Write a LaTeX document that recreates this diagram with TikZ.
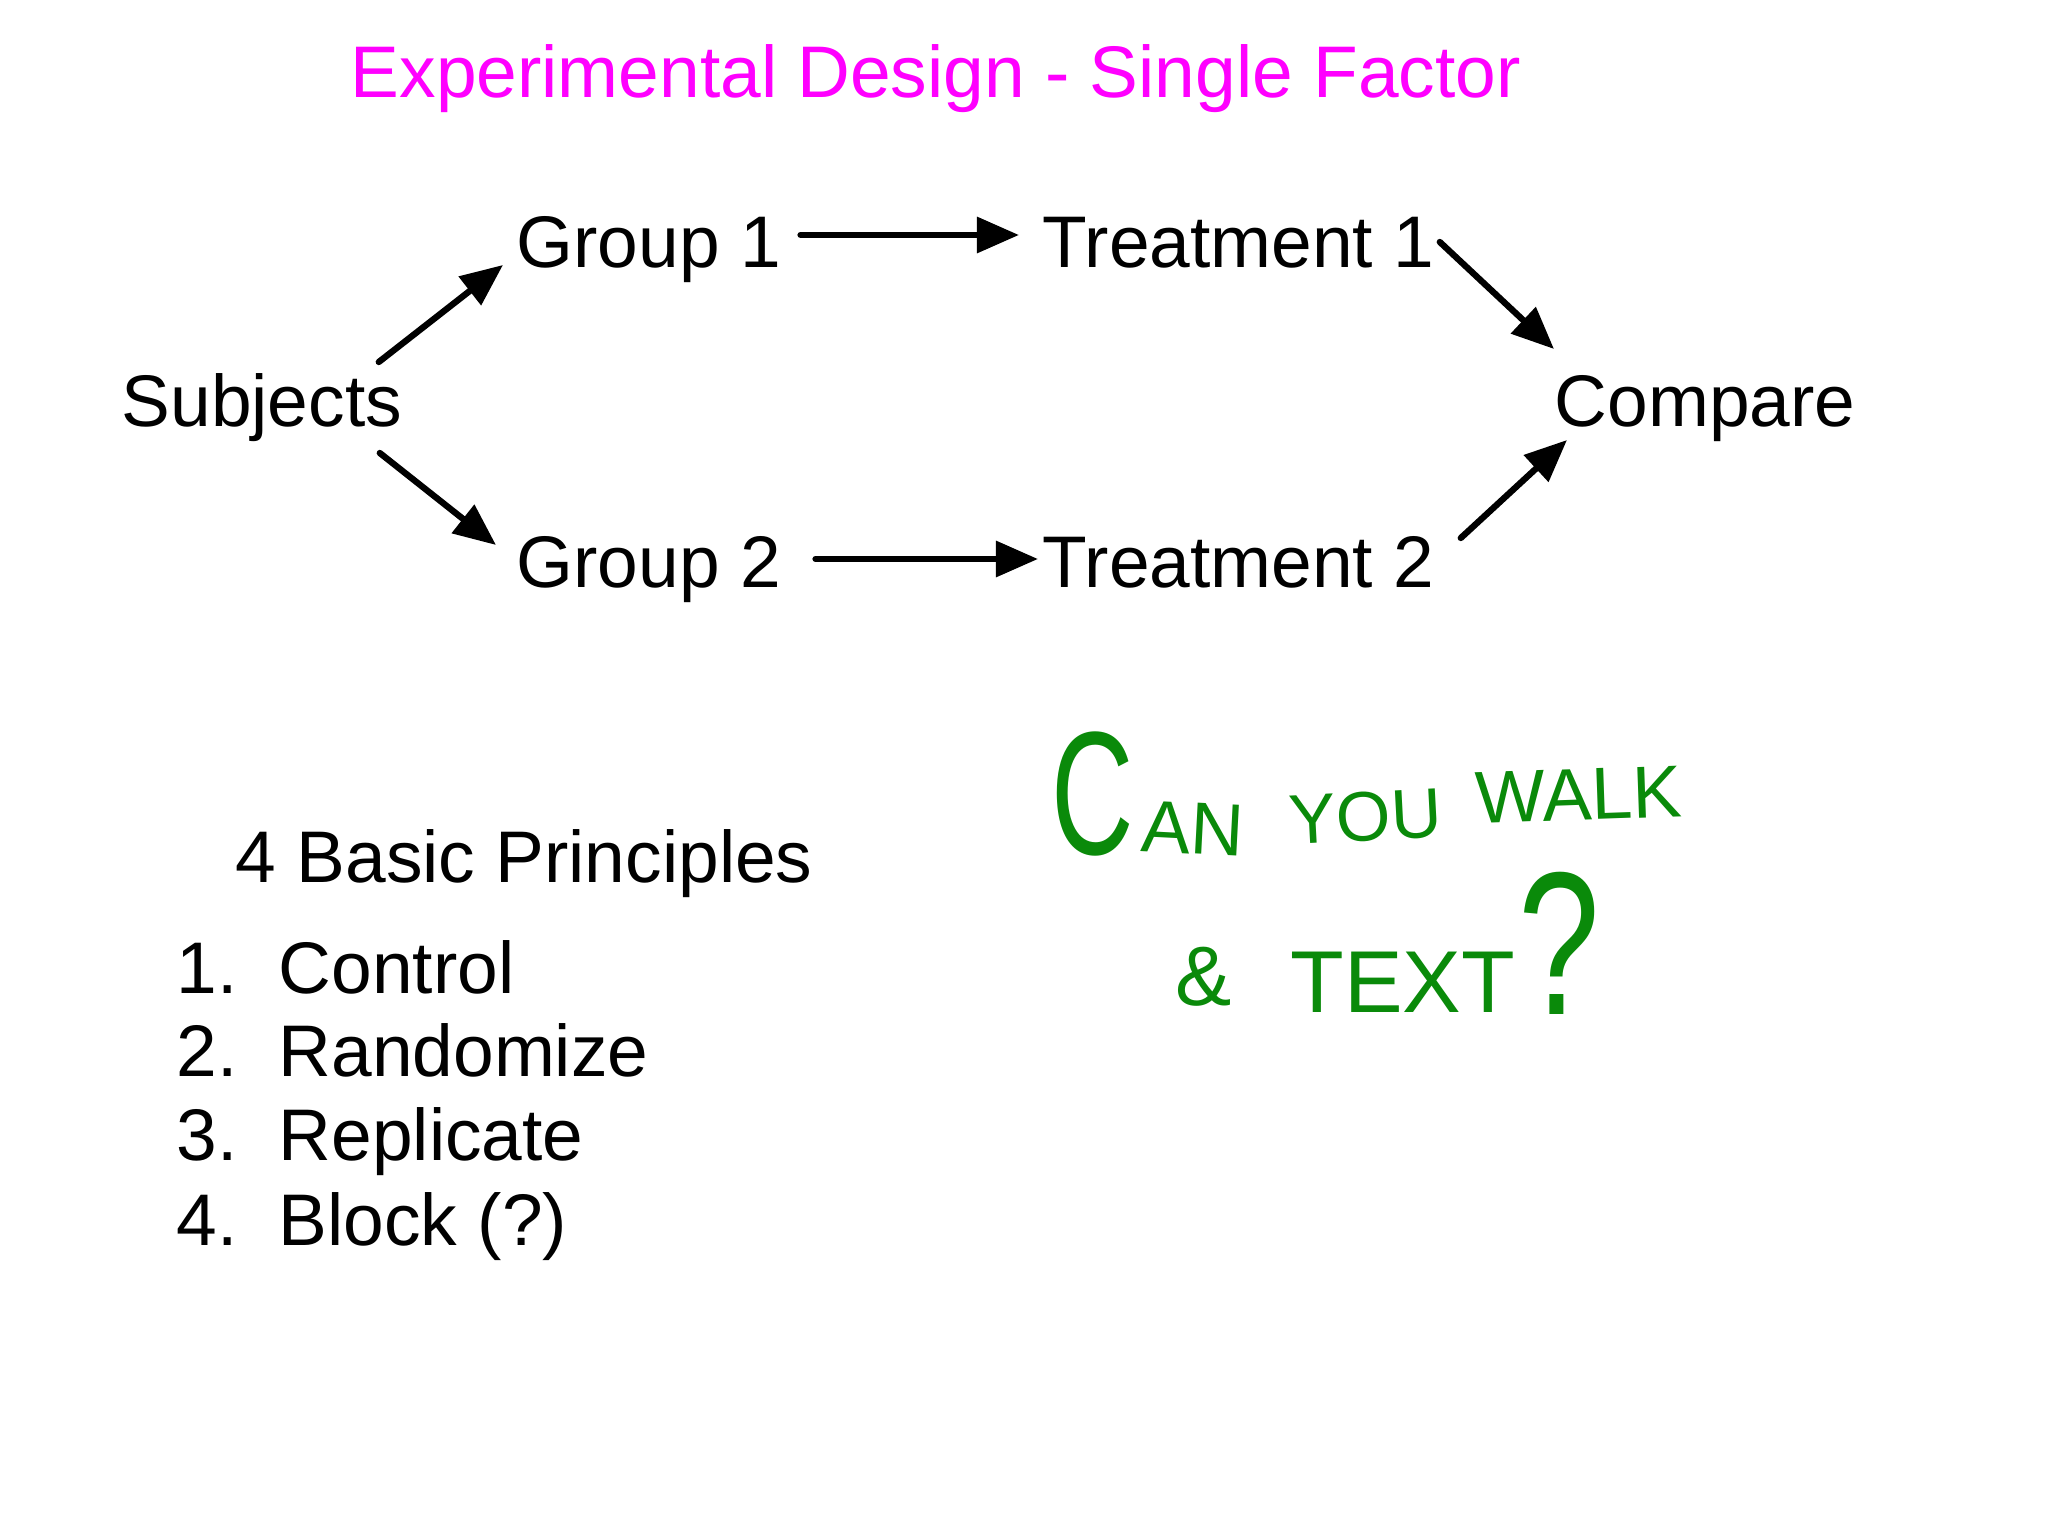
\documentclass[tikz,border=0pt]{standalone}
\usepackage{fontspec}
\setmainfont{Liberation Sans}
\definecolor{mymagenta}{HTML}{FF00FF}
\definecolor{mygreen}{HTML}{0A8A0A}
\usepackage{tikz}
\usetikzlibrary{arrows.meta, positioning, calc}
\tikzset{
	textnode/.style={
			anchor=base west,
			inner sep=0pt,
			text=black,
			font=\fontsize{20.8}{25}\selectfont
		},
	titlenode/.style={
			textnode,
			text=mymagenta,
			font=\fontsize{20.8}{25}\selectfont
		},
	handnode/.style={
			anchor=base west,
			inner sep=0pt,
			text=mygreen,
			font=\fontsize{21}{25}\selectfont
		},
	flowarrow/.style={
			line width=1.8pt,
			line cap=round,
			-{Triangle[length=12pt, width=10pt]}
		}
}

\begin{document}
\begin{tikzpicture}
\useasboundingbox[fill=white] (0,0) rectangle (20.48,-15.36);

\node[titlenode] (title) at (3.50,-0.98)  { Experimental Design - Single Factor };

\node[textnode] (subj) at (1.21,-4.27)  { Subjects };
\node[textnode] (grp1) at (5.16,-2.68)  { Group 1 };
\node[textnode] (trt1) at (10.42,-2.68)  { Treatment 1 };
\node[textnode] (grp2) at (5.16,-5.88)  { Group 2 };
\node[textnode] (trt2) at (10.42,-5.88)  { Treatment 2 };
\node[textnode] (comp) at (15.54,-4.27)  { Compare };

\draw[flowarrow] ([shift={(-0.24,0.65)}]subj.base east) -- ([shift={(-0.13,0.03)}]grp1.base west);
\draw[flowarrow] ([shift={(0.19,0.33)}]grp1.base east) -- ([shift={(-0.23,0.33)}]trt1.base west);
\draw[flowarrow] ([shift={(0.05,0.26)}]trt1.base east) -- ([shift={(0,0.78)}]comp.base west);

\draw[flowarrow] ([shift={(-0.23,-0.26)}]subj.base east) -- ([shift={(-0.20,0.43)}]grp2.base west);
\draw[flowarrow] ([shift={(0.34,0.29)}]grp2.base east) -- ([shift={(-0.04,0.29)}]trt2.base west);
\draw[flowarrow] ([shift={(0.26,0.50)}]trt2.base east) -- ([shift={(0.13,-0.13)}]comp.base west);

\node[textnode] (princ) at (2.35,-8.82)  { 4 Basic Principles };
\node[textnode] (n1) at (1.76,-9.93)  { 1. };
\node[textnode] (n2) at (1.76,-10.76)  { 2. };
\node[textnode] (n3) at (1.76,-11.60)  { 3. };
\node[textnode] (n4) at (1.76,-12.45)  { 4. };
\node[textnode] (p1) at (2.78,-9.93)  { Control };
\node[textnode] (p2) at (2.78,-10.76)  { Randomize };
\node[textnode] (p3) at (2.78,-11.60)  { Replicate };
\node[textnode] (p4) at (2.78,-12.45)  { Block (?) };

\node[handnode, font=\fontsize{50}{54}\selectfont, xscale=0.65, transform shape] (hc) at (10.51,-8.55)  { C };
\node[handnode, rotate=-3] (han) at (11.40,-8.51)  { AN };
\node[handnode, font=\fontsize{20}{24}\selectfont, rotate=3] (hyou) at (12.90,-8.45)  { YOU };
\node[handnode, rotate=2] (hwalk) at (14.76,-8.24)  { WALK };
\node[handnode, font=\fontsize{24}{28}\selectfont] (hand) at (11.75,-10.05)  { \& };
\node[handnode, font=\fontsize{25}{29}\selectfont] (htext) at (12.90,-10.12)  { TEXT };
\node[handnode, font=\fontsize{58}{62}\selectfont, xscale=0.72, transform shape] (hq) at ([shift={(0.02,-0.02)}]htext.base east)  { ? };
\end{tikzpicture}
\end{document}
